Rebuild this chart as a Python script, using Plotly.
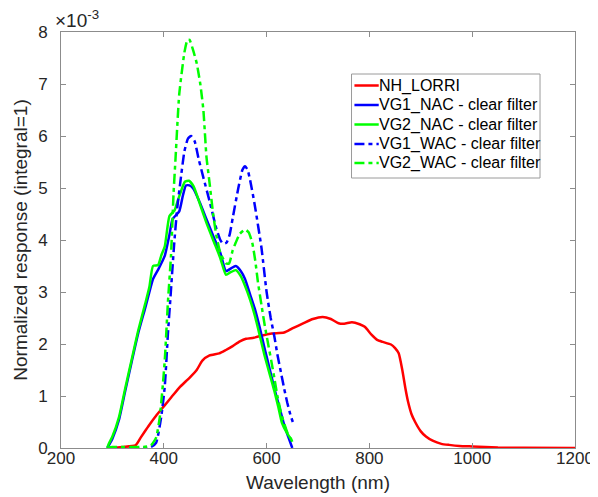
import plotly.graph_objects as go

# Wavelengths (nm) and normalized responses (units of 1e-3)
lorri_wl = [300, 320, 345, 355, 370, 385, 400, 415, 432, 450, 464, 475, 489, 508, 520, 534, 548, 560, 575, 590, 610, 634, 650, 672, 690, 709, 725, 740, 751, 766, 781, 791, 804, 815, 826, 842, 850, 857, 864, 870, 875, 882, 889, 900, 910, 923, 940, 955, 975, 1000, 1050, 1100, 1200]
lorri_val = [0.0, 0.02, 0.05, 0.2, 0.42, 0.62, 0.8, 0.98, 1.18, 1.35, 1.5, 1.68, 1.78, 1.82, 1.88, 1.96, 2.05, 2.1, 2.12, 2.16, 2.2, 2.22, 2.3, 2.4, 2.48, 2.52, 2.48, 2.4, 2.39, 2.42, 2.38, 2.33, 2.18, 2.08, 2.04, 1.99, 1.92, 1.82, 1.5, 1.15, 0.9, 0.65, 0.5, 0.32, 0.22, 0.14, 0.08, 0.06, 0.04, 0.03, 0.01, 0.003, 0.0]

vg1_nac_wl = [290, 293, 300, 313, 325, 338, 350, 364, 372, 379, 390, 402, 411, 417, 430, 437, 443, 450, 458, 470, 483, 496, 510, 521, 530, 540, 550, 558, 568, 577, 587, 596, 606, 615, 625, 634, 642, 650]
vg1_nac_val = [0.0, 0.05, 0.18, 0.55, 1.1, 1.68, 2.2, 2.7, 3.0, 3.25, 3.45, 3.7, 4.1, 4.4, 4.55, 4.85, 5.05, 5.05, 4.98, 4.72, 4.4, 4.08, 3.75, 3.4, 3.45, 3.5, 3.4, 3.25, 2.95, 2.68, 2.3, 1.92, 1.52, 1.15, 0.78, 0.45, 0.22, 0.0]

vg2_nac_wl = [290, 293, 300, 313, 325, 338, 350, 364, 372, 379, 389, 395, 402, 411, 421, 428, 441, 449, 458, 470, 483, 496, 510, 521, 530, 540, 550, 558, 568, 577, 587, 596, 606, 615, 623, 630, 640, 647, 650]
vg2_nac_val = [0.0, 0.08, 0.22, 0.6, 1.15, 1.72, 2.25, 2.78, 3.1, 3.5, 3.52, 3.7, 3.88, 4.46, 4.57, 4.78, 5.12, 5.14, 5.03, 4.7, 4.33, 4.0, 3.65, 3.33, 3.38, 3.42, 3.3, 3.12, 2.85, 2.55, 2.15, 1.78, 1.42, 1.1, 0.78, 0.48, 0.28, 0.18, 0.12]

vg1_wac_wl = [290, 320, 360, 375, 385, 395, 402, 408, 413, 420, 426, 432, 440, 447, 453, 460, 468, 477, 489, 502, 510, 515, 522, 528, 534, 545, 553, 558, 563, 568, 577, 590, 600, 608, 615, 621, 628, 634, 640, 646, 651]
vg1_wac_val = [0.0, 0.0, 0.0, 0.02, 0.1, 0.6, 1.2, 2.2, 2.9, 3.9, 4.6, 5.1, 5.7, 5.95, 6.0, 5.9, 5.55, 5.2, 4.75, 4.23, 4.0, 3.93, 3.95, 4.1, 4.42, 5.0, 5.35, 5.42, 5.35, 5.15, 4.67, 3.85, 3.0, 2.5, 2.15, 1.8, 1.45, 1.15, 0.88, 0.65, 0.5]

vg2_wac_wl = [290, 300, 360, 375, 385, 392, 398, 402, 408, 414, 419, 423, 430, 440, 446, 450, 457, 464, 471, 477, 483, 489, 496, 502, 510, 521, 527, 534, 540, 548, 558, 565, 572, 578, 583, 590, 596, 603, 609, 615, 621, 628, 635, 641, 647, 650]
vg2_wac_val = [0.0, 0.02, 0.02, 0.05, 0.2, 0.58, 1.2, 1.7, 2.8, 3.7, 4.9, 5.6, 6.8, 7.6, 7.85, 7.85, 7.65, 7.4, 7.0, 6.5, 5.6, 5.1, 4.5, 4.1, 3.75, 3.55, 3.55, 3.8, 3.95, 4.12, 4.2, 4.15, 3.95, 3.6, 3.2, 2.75, 2.38, 2.0, 1.68, 1.35, 1.0, 0.68, 0.45, 0.28, 0.18, 0.12]

x_ticks = [200, 400, 600, 800, 1000, 1200]
y_ticks = [0, 1, 2, 3, 4, 5, 6, 7, 8]

FONT = "Liberation Sans, Arial, sans-serif"
TXT = "#262626"
AX = "#8c8c8c"
DASHDOT = "10px,4px,4px,4px"

series = [
    ("NH_LORRI", lorri_wl, lorri_val, "#ff0000", "solid"),
    ("VG1_NAC - clear filter", vg1_nac_wl, vg1_nac_val, "#0000ff", "solid"),
    ("VG2_NAC - clear filter", vg2_nac_wl, vg2_nac_val, "#00ff00", "solid"),
    ("VG1_WAC - clear filter", vg1_wac_wl, vg1_wac_val, "#0000ff", DASHDOT),
    ("VG2_WAC - clear filter", vg2_wac_wl, vg2_wac_val, "#00ff00", DASHDOT),
]

# plot area in pixels (for the hand-drawn MATLAB-style legend)
L, R, T, B = 50, 579, 24, 440
def px(xp):
    return (xp - L) / (R - L)
def py(yp):
    return (B - yp) / (B - T)

fig = go.Figure()
for name, xs, ys, col, dash in series:
    fig.add_trace(go.Scatter(x=xs, y=ys, mode="lines", name=name, showlegend=False,
                             line=dict(color=col, width=2.5, dash=dash, shape="spline", smoothing=0.5)))

# legend box
shapes = [dict(type="rect", xref="paper", yref="paper",
               x0=px(349), x1=px(543), y0=py(170), y1=py(66),
               line=dict(color="#9a9a9a", width=1), fillcolor="white", layer="above")]
annotations = []
row_y = [77.5, 97, 116.5, 136, 155]
for (name, xs, ys, col, dash), yy in zip(series, row_y):
    shapes.append(dict(type="line", xref="paper", yref="paper",
                       x0=px(352), x1=px(377), y0=py(yy), y1=py(yy),
                       line=dict(color=col, width=2.5, dash=dash), layer="above"))
    annotations.append(dict(x=px(378), y=py(yy), xref="paper", yref="paper",
                            xanchor="left", yanchor="middle", text=name, showarrow=False,
                            xshift=-3,
                            font=dict(family=FONT, size=16, color="#000000")))

annotations.append(dict(x=0, y=1, xref="paper", yref="paper", xanchor="left", yanchor="bottom",
                        text="×10<sup>-3</sup>", showarrow=False,
                        font=dict(family=FONT, size=19, color=TXT), xshift=-8, yshift=-1))

fig.update_layout(
    width=598, height=497,
    margin=dict(l=L, r=598 - R, t=T, b=497 - B),
    paper_bgcolor="white", plot_bgcolor="white",
    font=dict(family=FONT, size=17, color=TXT),
    showlegend=False,
    shapes=shapes, annotations=annotations,
    xaxis=dict(range=[200, 1200], tickvals=x_ticks, ticks="inside", ticklen=5,
               tickcolor=AX, showline=True, linecolor=AX, linewidth=1, mirror="ticks",
               showgrid=False, zeroline=False, ticklabelstandoff=-5,
               title=dict(text="Wavelength (nm)", font=dict(size=19, color=TXT), standoff=8),
               tickfont=dict(size=17, color=TXT)),
    yaxis=dict(range=[0, 8], tickvals=y_ticks, ticks="inside", ticklen=5,
               tickcolor=AX, showline=True, linecolor=AX, linewidth=1, mirror="ticks",
               showgrid=False, zeroline=False, ticklabelstandoff=9,
               title=dict(text="Normalized response (integral=1)", font=dict(size=19, color=TXT), standoff=5),
               tickfont=dict(size=17, color=TXT)),
)

fig.write_html("out.html")
